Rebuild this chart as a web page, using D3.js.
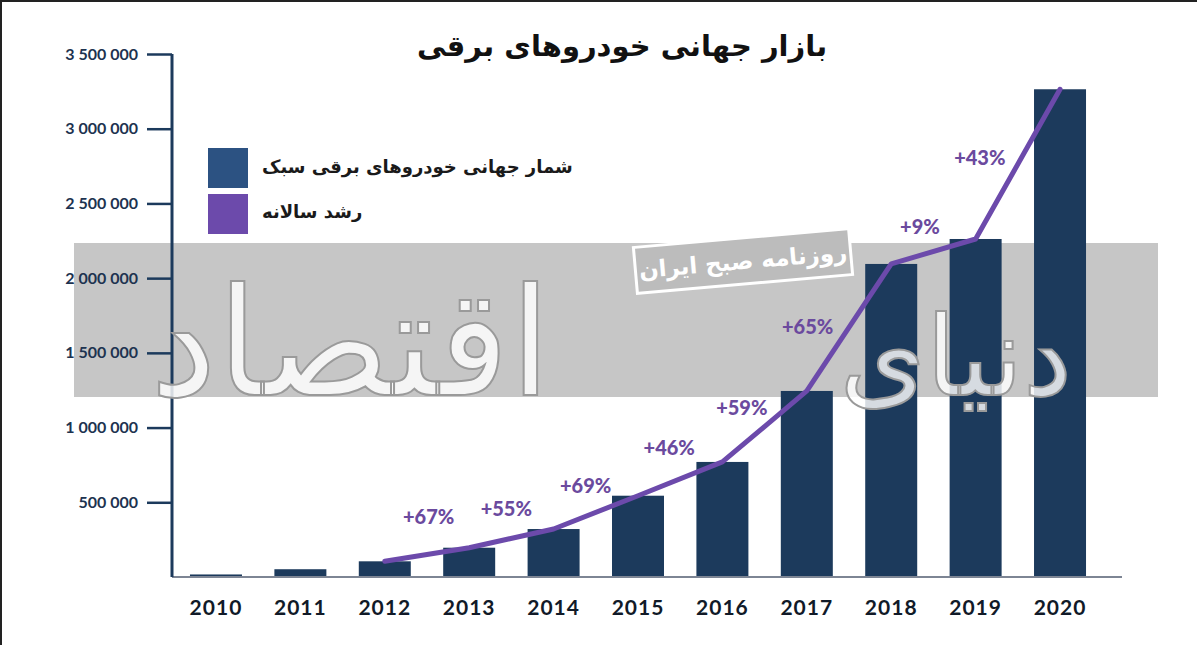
<!DOCTYPE html>
<html lang="fa">
<head>
<meta charset="UTF-8">
<title>بازار جهانی خودروهای برقی</title>
<script src="https://d3js.org/d3.v7.min.js"></script>
<style>
    html, body { margin: 0; padding: 0; background: #fff; }
    svg { display: block; }
    .fa { font-family: "DejaVu Sans", sans-serif; }
    .num { font-family: Lato, "Open Sans", sans-serif; font-weight: 700; }
</style>
</head>
<body>
<script>
// data
const years = [2010, 2011, 2012, 2013, 2014, 2015, 2016, 2017, 2018, 2019, 2020]
const cars = [17000, 52000, 105000, 196000, 321000, 544000, 770000, 1245000, 2095000, 2262000, 3264000]
const growthLabels = ['+67%', '+55%', '+69%', '+46%', '+59%', '+65%', '+9%', '+43%']
// where each growth label sits, in year / value units
const growthAtYear = [2012.52, 2013.44, 2014.38, 2015.37, 2016.23, 2017.01, 2018.34, 2019.05]
const growthAtValue = [401000, 455000, 609000, 863000, 1131000, 1673000, 2343000, 2805000]
const yTicks = [500000, 1000000, 1500000, 2000000, 2500000, 3000000, 3500000]
const lineFrom = 2012

const title = 'بازار جهانی خودروهای برقی'
const legendNames = ['شمار جهانی خودروهای برقی سبک', 'رشد سالانه']

const width = 1197, height = 645
const navy = '#1c3a5c', purple = '#6c4aab'

const svg = d3.select('body').append('svg')
    .attr('width', width)
    .attr('height', height)

// scales
const x = d3.scaleBand()
    .domain(years)
    .range([172, 1104])
    .paddingInner(0.384)
    .paddingOuter(0.213)
const xYear = d3.scaleLinear()
    .domain([years[0], years[years.length - 1]])
    .range([x(years[0]) + x.bandwidth() / 2, x(years[years.length - 1]) + x.bandwidth() / 2])
const y = d3.scaleLinear()
    .domain([0, 3500000])
    .range([577, 54])

// watermark band (drawn under the marks)
svg.append('rect')
    .attr('x', 74).attr('y', 243)
    .attr('width', 1084).attr('height', 154)
    .attr('fill', '#c6c6c6')

// bars
svg.append('g')
    .selectAll('rect')
    .data(years)
    .join('rect')
    .attr('x', d => x(d))
    .attr('y', (d, i) => y(cars[i]))
    .attr('width', x.bandwidth())
    .attr('height', (d, i) => y(0) - y(cars[i]))
    .attr('fill', navy)

// baseline
svg.append('line')
    .attr('x1', 172).attr('x2', 1122)
    .attr('y1', y(0)).attr('y2', y(0))
    .attr('stroke', '#7d8594')
    .attr('stroke-width', 2)

// y axis
const fmt = v => d3.format(',')(v).replace(/,/g, ' ')
const yAxis = svg.append('g')
    .attr('transform', 'translate(172,0)')
    .call(d3.axisLeft(y).tickValues(yTicks).tickSize(25).tickPadding(9).tickFormat(fmt))
yAxis.select('.domain')
    .attr('d', `M0,${y(3500000)}V${y(0)}`)
    .attr('stroke', navy)
    .attr('stroke-width', 3)
yAxis.selectAll('.tick line').attr('stroke', navy).attr('stroke-width', 2.5)
yAxis.selectAll('.tick text')
    .attr('class', 'num')
    .attr('fill', '#1d3350')
    .style('font-size', '16px')
    .style('white-space', 'pre')

// x axis labels
svg.append('g')
    .selectAll('text')
    .data(years)
    .join('text')
    .attr('class', 'num')
    .attr('x', d => x(d) + x.bandwidth() / 2)
    .attr('y', 615)
    .attr('text-anchor', 'middle')
    .attr('fill', '#111a28')
    .style('font-size', '21px')
    .style('letter-spacing', '1px')
    .text(d => d)

// growth line
const lineData = years.map((d, i) => [d, cars[i]]).filter(d => d[0] >= lineFrom)
const line = d3.line()
    .x(d => xYear(d[0]))
    .y(d => y(d[1]))
svg.append('path')
    .datum(lineData)
    .attr('d', line)
    .attr('fill', 'none')
    .attr('stroke', purple)
    .attr('stroke-width', 5)
    .attr('stroke-linejoin', 'round')
    .attr('stroke-linecap', 'round')

// growth labels
svg.append('g')
    .selectAll('text')
    .data(growthLabels)
    .join('text')
    .attr('class', 'num')
    .attr('x', (d, i) => xYear(growthAtYear[i]))
    .attr('y', (d, i) => y(growthAtValue[i]))
    .attr('dy', '0.35em')
    .attr('text-anchor', 'middle')
    .attr('fill', '#6b4a9e')
    .style('font-size', '20px')
    .style('font-weight', 900)
    .text(d => d)

// watermark lettering, two words kept clear of the labels
const wm = svg.append('g')
    .attr('class', 'fa')
    .attr('fill', '#fff')
    .attr('fill-opacity', 0.82)
    .attr('stroke', '#9a9a9a')
    .attr('stroke-width', 2)
    .style('font-size', '150px')
wm.append('text')
    .attr('x', 150).attr('y', 395)
    .text('اقتصاد')
wm.append('text')
    .attr('x', 1072).attr('y', 395)
    .attr('text-anchor', 'end')
    .style('font-size', '110px')
    .text('دنیای')

const stamp = svg.append('g')
    .attr('transform', 'translate(743,261) rotate(-5)')
stamp.append('rect')
    .attr('x', -108).attr('y', -23)
    .attr('width', 216).attr('height', 46)
    .attr('fill', '#bcbcbc')
    .attr('stroke', '#fff')
    .attr('stroke-width', 3)
stamp.append('text')
    .attr('class', 'fa')
    .attr('text-anchor', 'middle')
    .attr('dy', '0.35em')
    .attr('fill', '#fff')
    .style('font-size', '23px')
    .style('font-weight', 'bold')
    .text('روزنامه صبح ایران')

// legend
const legendColors = ['#2c5282', purple]
const lg = svg.append('g')
lg.selectAll('rect')
    .data(legendNames)
    .join('rect')
    .attr('x', 208)
    .attr('y', (d, i) => 148 + i * 46)
    .attr('width', 40).attr('height', 40)
    .attr('fill', (d, i) => legendColors[i])
lg.selectAll('text')
    .data(legendNames)
    .join('text')
    .attr('class', 'fa')
    .attr('x', 262)
    .attr('y', (d, i) => 167 + i * 45)
    .attr('dy', '0.35em')
    .attr('fill', '#1a1a1a')
    .style('font-size', '18px')
    .style('font-weight', 'bold')
    .text(d => d)

// title
svg.append('text')
    .attr('class', 'fa')
    .attr('x', 622)
    .attr('y', 56)
    .attr('text-anchor', 'middle')
    .attr('fill', '#111')
    .style('font-size', '29px')
    .style('font-weight', 'bold')
    .text(title)

// frame on top and left edges
svg.append('path')
    .attr('d', `M1,${height}V1H${width}`)
    .attr('fill', 'none')
    .attr('stroke', '#222')
    .attr('stroke-width', 2)
</script>
</body>
</html>
